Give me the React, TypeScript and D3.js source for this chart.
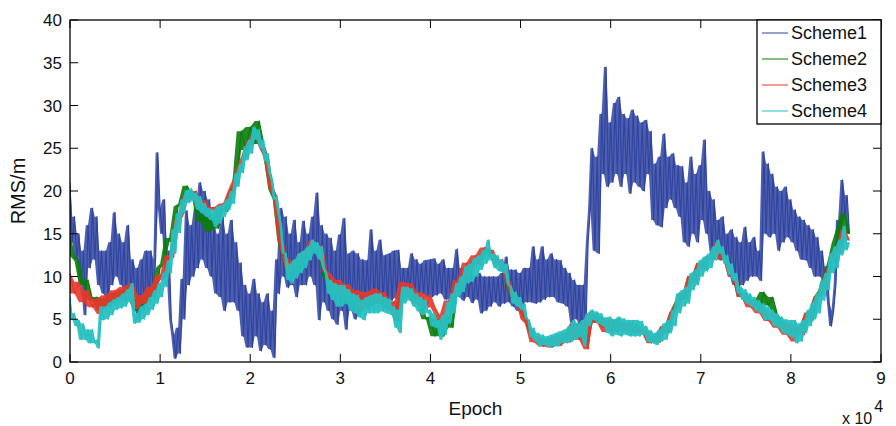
import React from "react";
import * as d3 from "d3";

// epochs between samples (fine for Scheme1/Scheme4, coarse for Scheme2/Scheme3)
const fineStep = 250;
const coarseStep = 500;

// Scheme1 RMS, one value every 250 epochs (peak / trough)
const scheme1 = [
  21, 14, 17, 12, 15, 9, 13, 5.5, 16, 11, 18, 12, 17, 9, 13, 8, 13, 7, 14, 9,
  17.5, 10, 15, 9, 14, 7, 16, 8, 12, 6, 11, 5, 12, 6, 13, 7, 13, 8, 12, 24.5,
  18, 15, 19, 10, 13, 5, 3, 0.4, 4, 1, 9.7, 5, 17.7, 9, 16, 10, 18, 11, 21, 12,
  20, 11, 19, 10, 16.6, 8, 15, 7.6, 17, 6, 15, 7, 16.6, 7, 14, 6, 11.6, 3, 9, 1.7,
  8, 1.7, 9.7, 3, 8, 1.3, 7, 2, 8, 1.5, 6, 0.5, 12, 8, 18, 10, 17, 8.7, 15, 9,
  16.6, 7.6, 14, 9, 16.5, 9, 15, 10, 17, 9, 19.8, 4.9, 16, 7, 15, 6, 14.5, 5, 13, 4.4,
  14.9, 6, 16.8, 3.8, 12.7, 6, 13, 5, 12.7, 5.5, 12, 7, 11.9, 6.1, 15.5, 7, 13, 6.9, 14.3, 7,
  12.5, 7, 12.7, 7.2, 13, 7.5, 13.1, 8, 11, 8, 11, 8.5, 12.7, 7.6, 12, 8, 11.5, 8, 11.9, 7.6,
  12, 7.6, 12.1, 7.8, 11.5, 8, 12, 7.3, 11, 7.3, 11, 8, 13.2, 7.6, 11, 7.2, 11, 7.6, 10.4, 6.9,
  10, 7.3, 10.4, 5.7, 10, 6, 10, 6.5, 10, 7, 10, 6.5, 10.4, 6.85, 12.3, 7, 10.8, 6.5, 10.8, 6,
  10.4, 6.5, 11, 7, 11, 7, 13.5, 6.85, 12, 7, 13.5, 7.3, 12, 7.6, 12.7, 7.6, 12, 7, 11.9, 6.85,
  11, 6.5, 10.4, 4.6, 9.6, 5, 9, 4, 9, 3.5, 14, 18, 25, 13, 24, 12.7, 29, 22, 34.5, 20.5,
  28, 21, 30.3, 22, 31, 20.5, 29, 22, 28.5, 19.7, 29.5, 21, 28.8, 20.5, 28, 20, 28.3, 22, 27, 16.6,
  23.2, 16, 24, 15.8, 26.7, 18, 24, 19, 24.4, 18, 23, 17, 22.9, 14, 21, 13.5, 24, 15, 22, 14,
  23, 16.6, 26, 15, 20, 12.7, 19, 12.5, 16.6, 11.9, 17, 12, 15, 10, 15.5, 9, 14.6, 8.8, 14, 9,
  15.8, 9.5, 14, 10, 14.6, 10, 13, 9.5, 24.6, 15, 23.2, 14.6, 22, 15, 20.5, 13, 20, 14, 20.5, 14.6,
  19, 14, 17.8, 13, 17, 12, 16.6, 11.9, 16, 11, 15.5, 10, 14.6, 10, 13, 9.5, 11.2, 7, 4.2, 6,
  9, 16.6, 13, 21.3, 17, 19.5, 15,
];

// Scheme2 RMS, one value every 500 epochs
const scheme2 = [
  14.6, 12.4, 11.8, 9, 9.6, 7.2, 7.6, 6, 7.5, 6.5, 8.1, 7, 8.5, 7.4, 8.9, 6, 7.6, 6.6, 8.6, 7.6,
  11, 11.5, 14.5, 14, 18.2, 18.5, 20.6, 19.6, 19.8, 16.4, 17.2, 15.2, 17, 15.6, 18, 17.6, 19.6, 20.8, 27, 24.8,
  27.5, 25.5, 28.2, 25.5, 23.8, 20.2, 19, 14.2, 12.2, 10.2, 11.6, 11, 12.4, 12, 13.8, 13, 13.1, 10, 9.2, 8.2,
  8.6, 7.8, 8.1, 6.8, 7.4, 6, 7.2, 6.6, 7.6, 6.8, 7.2, 6.2, 6.1, 4.8, 8.4, 7.6, 8.2, 6.8, 7.4, 5,
  5.3, 3, 5, 3, 5.3, 4, 8.8, 9, 10.8, 10.5, 11.8, 11.5, 12.7, 13.2, 12.3, 11.6, 11.5, 10.6, 8.4, 7.2,
  7.2, 5.6, 4.5, 3, 3, 2.2, 2.6, 2.2, 3, 2.4, 3.4, 2.8, 4.5, 3.1, 4.5, 2, 5.7, 4.6, 5.3, 4,
  4.9, 3.8, 4.9, 3.9, 4.5, 3.6, 4.5, 3.5, 3.8, 2.5, 3, 2.6, 4.1, 3.6, 5.7, 6.8, 8, 7.5, 10, 9.5,
  11.5, 11, 12.3, 12.2, 13.9, 12.3, 12.1, 10.2, 10, 7.6, 8.1, 6.8, 7.2, 6, 8.2, 6.6, 7.6, 5.6, 4.9, 3.8,
  4.5, 3.6, 4.1, 3.7, 5.7, 5.8, 7.6, 8.3, 10, 11.5, 13.8, 15.5, 17.4, 15,
];

// Scheme3 RMS, one value every 500 epochs
const scheme3 = [
  10.4, 8, 9.4, 7, 8.4, 6.4, 7.4, 5.6, 7.8, 6.6, 8.4, 7.2, 8.8, 7.6, 9.2, 6.2, 7.8, 6.8, 8.8, 7.8,
  10.2, 9.6, 12.5, 12.2, 16.5, 17, 19.5, 19, 20, 18.6, 18.9, 18, 18.1, 17.4, 18.5, 18.6, 20, 21.2, 22.8, 24,
  25.6, 26.4, 26.4, 25, 24, 20.5, 19.2, 14.5, 12.4, 10.4, 11.8, 11.4, 12.8, 12.4, 14.2, 13.4, 13.6, 10.6, 10.2, 8.2,
  9.6, 8, 9.1, 7, 8.4, 6.3, 8.2, 6.8, 8.6, 7, 8.2, 6.4, 7.1, 5.1, 9.4, 7.8, 9.2, 7, 8.2, 6.3,
  7.8, 6.4, 5.4, 4, 7.2, 7, 9.6, 8.8, 11.6, 10.4, 12.5, 11.4, 13.4, 13.2, 13, 11.4, 12, 10.4, 8.8, 7.2,
  7, 5, 4.5, 2.3, 3, 1.8, 2.7, 1.7, 3, 1.9, 3.4, 2.3, 4.5, 2.6, 4.5, 1.5, 5.8, 4.6, 5.4, 3.5,
  5, 3.5, 5, 3.6, 4.6, 3.4, 4.6, 3.3, 3.9, 2.2, 3.1, 2.3, 4.2, 3.4, 5.8, 6.5, 8.1, 7.3, 10.1, 9.3,
  11.6, 10.8, 12.4, 12, 14, 12, 12.2, 10, 10.1, 7.6, 8.1, 6.4, 7.3, 5.7, 6.5, 4.8, 5.8, 4, 5, 3.2,
  4.6, 2.4, 4.2, 3.2, 5.8, 4.9, 7.6, 7.8, 9.8, 11, 13, 12.8, 15.5, 14.2,
];

// Scheme4 RMS, one value every 250 epochs
const scheme4 = [
  7.6, 5, 5.7, 4.2, 4.9, 2.6, 4.5, 2.6, 3.8, 2.2, 3.8, 2.2, 2.6, 1.6, 6.5, 4.9, 6.5, 5, 7, 5.5,
  7.3, 6.1, 7.6, 6.3, 8, 6.5, 8.5, 7, 9.2, 4.5, 5.7, 4.6, 6.5, 5, 6.8, 5.5, 7.6, 6.1, 8.4, 6.8,
  9.2, 7.6, 10.4, 8.8, 11.9, 10.4, 15.5, 12.7, 17.4, 15.1, 19, 17.4, 20.1, 18.6, 20.3, 18.8, 19.8, 17.8, 19.4, 17.4,
  18.6, 17, 18, 16.6, 17.8, 15.8, 18.2, 16.2, 18.4, 17, 19, 17.8, 20, 18.5, 22.1, 20.5, 23.2, 22.1, 25.2, 23.6,
  26, 24.4, 27.5, 26, 27.2, 25, 26, 23.5, 24.4, 22.1, 21.3, 19, 19.4, 17.4, 15.9, 12.7, 12.7, 9.6, 11.5, 9.2,
  12, 9.8, 12.7, 10.4, 13, 11, 13.5, 11.9, 14.3, 12.7, 14, 12, 13.5, 11, 10.4, 8, 9.6, 7.25, 9.2, 6.5,
  9, 6.5, 9, 6.8, 8.5, 6, 8, 5.7, 7.8, 5.2, 7.25, 4.9, 7.6, 5.7, 7.8, 5.7, 8, 5.7, 8, 5.9,
  7.6, 5.7, 7.4, 5.5, 6.5, 4, 6.1, 3.4, 8.8, 6.85, 8.8, 7.2, 8.6, 6.5, 8, 5.9, 7.6, 5.5, 7.25, 5.7,
  6.1, 4.2, 5.7, 4, 4.9, 2.6, 5.5, 3.2, 7, 4.5, 8, 5.7, 9.2, 7.6, 10, 8.2, 11.2, 9.2, 11.5, 9.4,
  12.2, 10, 12.5, 10.8, 13.1, 11.5, 14.3, 11.9, 12.7, 11, 12.5, 10.6, 11.9, 10.4, 11.5, 9, 8.8, 6.85, 8.2, 6.5,
  7.6, 6.1, 6.8, 5, 4.9, 2.9, 4, 2.4, 3.4, 1.8, 3.2, 2, 3, 1.7, 3.2, 1.8, 3.4, 1.8, 3.6, 2.2,
  3.8, 2.2, 4.2, 2.4, 4.9, 2.6, 4.5, 2.9, 4.9, 1.8, 5.7, 4.2, 6.1, 4.9, 5.9, 4.5, 5.7, 4.2, 5.2, 3.4,
  5.3, 3, 5, 3.2, 5.3, 3, 5.1, 3.2, 4.9, 3, 4.9, 3, 4.9, 3, 4.8, 3.2, 4.2, 2.4, 3.7, 2.2,
  3.4, 2, 3.8, 2.4, 4.5, 2.6, 4.9, 3.4, 6.1, 4.2, 8, 5.7, 8.4, 6.5, 8.8, 6.85, 10.4, 8.4, 10.8, 9,
  11.9, 10, 12.3, 10.6, 12.7, 11, 13.5, 11.9, 14.3, 12.7, 13.5, 11.5, 12.5, 10.2, 11.5, 9.5, 10.4, 8, 8.8, 7.25,
  8.5, 6.8, 8, 6.5, 7.6, 6, 7.2, 5.7, 6.85, 4.9, 6.5, 4.9, 6.1, 4.2, 5.7, 4, 5.3, 3.4, 5, 3.2,
  4.9, 2.9, 4.9, 2.2, 4.5, 2.4, 4.9, 3.4, 6.1, 4.2, 7, 5, 8, 5.7, 9.5, 7.2, 10.4, 8.4, 12.7, 10.4,
  13.5, 11, 14.3, 12.5, 15.9, 13.1, 14,
];

const seriesNames = ["Scheme1", "Scheme2", "Scheme3", "Scheme4"];
const seriesColors = ["#2f43a0", "#0b7d0b", "#e5372a", "#27c0c0"];
const seriesData = [scheme1, scheme2, scheme3, scheme4];
const seriesSteps = [fineStep, coarseStep, coarseStep, fineStep];
// how solid the noisy band between neighbouring samples looks
const bandOpacity = [0.85, 0.9, 0.9, 0.92];

const xTicks = [0, 10000, 20000, 30000, 40000, 50000, 60000, 70000, 80000, 90000];
const yTicks = [0, 5, 10, 15, 20, 25, 30, 35, 40];

const width = 896;
const height = 426;
const margin = { top: 20, right: 15, bottom: 64, left: 70 };
const font = "'Liberation Sans', Arial, Helvetica, sans-serif";

export default function App() {
  const x = d3
    .scaleLinear()
    .domain([0, 90000])
    .range([margin.left, width - margin.right]);
  const y = d3
    .scaleLinear()
    .domain([0, 40])
    .range([height - margin.bottom, margin.top]);

  const x0 = margin.left;
  const x1 = width - margin.right;
  const y0 = height - margin.bottom;
  const y1 = margin.top;
  const tickLen = 8;

  const lines = seriesData.map((vals, s) =>
    d3
      .line<number>()
      .x((_, i) => x(i * seriesSteps[s]))
      .y((d) => y(d))(vals)
  );

  // band between each sample and the next one, so the noise reads as solid
  const bands = seriesData.map((vals, s) =>
    d3
      .area<number>()
      .x((_, i) => x(i * seriesSteps[s]))
      .y0((d, i) => y(Math.min(d, vals[i + 1] ?? d)))
      .y1((d, i) => y(Math.max(d, vals[i + 1] ?? d)))(vals)
  );

  // legend box in the top right corner
  const legW = 124;
  const legH = 104;
  const legX = x1 - legW;
  const legY = y1;

  return (
    <svg
      width={width}
      height={height}
      style={{ position: "absolute", left: 0, top: 0, background: "#fff" }}
      fontFamily={font}
    >
      <defs>
        <clipPath id="plot">
          <rect x={x0} y={y1} width={x1 - x0} height={y0 - y1} />
        </clipPath>
      </defs>
      <rect x={0} y={0} width={width} height={height} fill="#fff" />

      <g clipPath="url(#plot)">
        {lines.map((d, i) => (
          <g key={seriesNames[i]}>
            <path
              d={bands[i] || ""}
              fill={seriesColors[i]}
              fillOpacity={bandOpacity[i]}
              stroke="none"
            />
            <path
              d={d || ""}
              fill="none"
              stroke={seriesColors[i]}
              strokeWidth={1.1}
              strokeLinejoin="round"
            />
          </g>
        ))}
      </g>

      {/* ticks on all four sides, pointing inward */}
      <g stroke="#000" strokeWidth={1}>
        {xTicks.map((t) => (
          <g key={"xt" + t}>
            <line x1={x(t)} x2={x(t)} y1={y0} y2={y0 - tickLen} />
            <line x1={x(t)} x2={x(t)} y1={y1} y2={y1 + tickLen} />
          </g>
        ))}
        {yTicks.map((t) => (
          <g key={"yt" + t}>
            <line x1={x0} x2={x0 + tickLen} y1={y(t)} y2={y(t)} />
            <line x1={x1} x2={x1 - tickLen} y1={y(t)} y2={y(t)} />
          </g>
        ))}
      </g>
      <rect
        x={x0}
        y={y1}
        width={x1 - x0}
        height={y0 - y1}
        fill="none"
        stroke="#000"
        strokeWidth={1.3}
      />

      <g fontSize={17} fill="#111">
        {xTicks.map((t) => (
          <text key={"xl" + t} x={x(t)} y={y0 + 22} textAnchor="middle">
            {t / 10000}
          </text>
        ))}
        {yTicks.map((t) => (
          <text key={"yl" + t} x={x0 - 8} y={y(t) + 6} textAnchor="end">
            {t}
          </text>
        ))}
      </g>

      <text x={(x0 + x1) / 2} y={415} textAnchor="middle" fontSize={19} fill="#111">
        Epoch
      </text>
      <text
        transform={`translate(25,${(y0 + y1) / 2}) rotate(-90)`}
        textAnchor="middle"
        fontSize={20}
        fill="#111"
      >
        RMS/m
      </text>
      <text x={842} y={424} fontSize={16} fill="#111">
        x 10
        <tspan dx={2} dy={-12}>
          4
        </tspan>
      </text>

      <g>
        <rect
          x={legX}
          y={legY}
          width={legW}
          height={legH}
          fill="#fff"
          stroke="#000"
          strokeWidth={1.3}
        />
        {seriesNames.map((name, i) => {
          const ly = legY + 13 + i * 26;
          return (
            <g key={name}>
              <line
                x1={legX + 5}
                x2={legX + 31}
                y1={ly}
                y2={ly}
                stroke={seriesColors[i]}
                strokeWidth={1}
              />
              <text x={legX + 34} y={ly + 6} fontSize={18} fill="#111">
                {name}
              </text>
            </g>
          );
        })}
      </g>
    </svg>
  );
}
